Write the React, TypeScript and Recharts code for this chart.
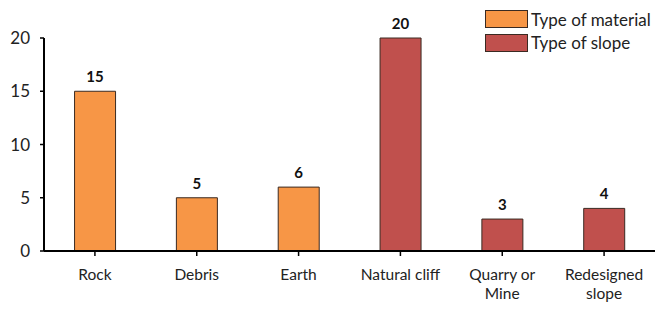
import React from 'react';
import { BarChart, Bar, XAxis, YAxis, LabelList } from 'recharts';

const categories = ['Rock', 'Debris', 'Earth', 'Natural cliff', 'Quarry or Mine', 'Redesigned slope'];
const materialValues = [15, 5, 6, null, null, null];
const slopeValues = [null, null, null, 20, 3, 4];
const yTicks = [0, 5, 10, 15, 20];
const tickLines: Record<string, string[]> = {
  'Quarry or Mine': ['Quarry or', 'Mine'],
  'Redesigned slope': ['Redesigned', 'slope'],
};
const legendItems = [
  { label: 'Type of material', key: 'material' },
  { label: 'Type of slope', key: 'slope' },
];

const data = categories.map((c, i) => ({ name: c, material: materialValues[i], slope: slopeValues[i] }));

const FONT = 'Lato, "Open Sans", sans-serif';
const ORANGE = '#F79646';
const RED = '#C0504D';
const STROKE = '#3a2a22';
const COLORS: Record<string, string> = { material: ORANGE, slope: RED };

const XTick = (props: any) => {
  const { x, y, payload } = props;
  const lines = tickLines[payload.value] || [payload.value];
  return (
    <g>
      {lines.map((l, i) => (
        <text key={i} x={x} y={y + 22 + i * 19} textAnchor="middle" fill="#222" fontSize={15.5} fontFamily={FONT}>
          {l}
        </text>
      ))}
    </g>
  );
};

const LegendOverlay = () => (
  <svg width={172} height={56} style={{ position: 'absolute', left: 484, top: 9 }}>
    {legendItems.map((it, i) => (
      <g key={it.key}>
        <rect x={1.5} y={1.5 + i * 24} width={42} height={17} fill={COLORS[it.key]} stroke={STROKE} />
        <text x={47} y={17 + i * 23} fontSize={17} fontFamily={FONT} fill="#222">{it.label}</text>
      </g>
    ))}
  </svg>
);

export default function App() {
  return (
    <div style={{ position: 'absolute', left: 0, top: 0, width: 656, height: 309, background: '#fff' }}>
      <BarChart
        width={656}
        height={309}
        data={data}
        margin={{ top: 38, right: 1, bottom: 0, left: 0 }}
        barCategoryGap="30%"
      >
        <XAxis
          dataKey="name"
          interval={0}
          tick={<XTick />}
          tickLine={{ stroke: '#000', strokeWidth: 1.5 }}
          axisLine={{ stroke: '#000', strokeWidth: 2 }}
          tickSize={5}
          height={58}
        />
        <YAxis
          domain={[0, 20]}
          ticks={yTicks}
          width={44}
          tickSize={4}
          tickLine={{ stroke: '#000', strokeWidth: 1.5 }}
          axisLine={{ stroke: '#000', strokeWidth: 2 }}
          tick={{ fill: '#222', fontSize: 17, fontFamily: FONT }}
          tickMargin={10}
        />
        <Bar dataKey="material" stackId="a" fill={ORANGE} stroke={STROKE} strokeWidth={1} isAnimationActive={false}>
          <LabelList dataKey="material" position="top" offset={9} fill="#111" fontSize={15} fontWeight="bold" fontFamily={FONT} />
        </Bar>
        <Bar dataKey="slope" stackId="a" fill={RED} stroke={STROKE} strokeWidth={1} isAnimationActive={false}>
          <LabelList dataKey="slope" position="top" offset={9} fill="#111" fontSize={15} fontWeight="bold" fontFamily={FONT} />
        </Bar>
      </BarChart>
      <LegendOverlay />
    </div>
  );
}
